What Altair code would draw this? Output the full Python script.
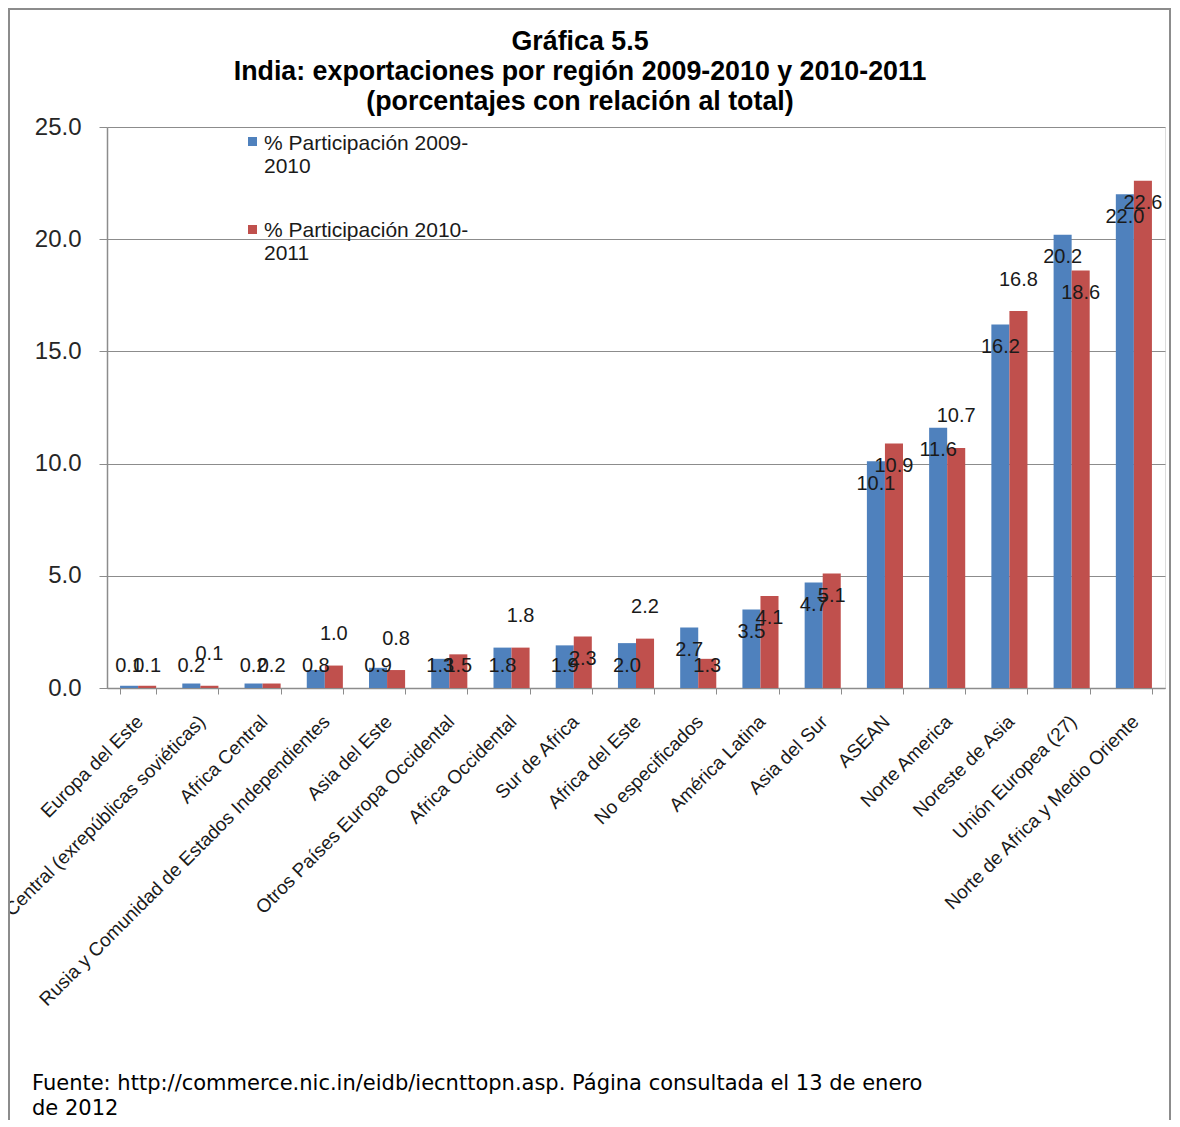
import altair as alt
import pandas as pd

# ---------------- data ----------------
regions = [
    "Europa del Este",
    "Asia Central (exrepúblicas soviéticas)",
    "Africa Central",
    "Rusia y Comunidad de Estados Independientes",
    "Asia del Este",
    "Otros Países Europa Occidental",
    "Africa Occidental",
    "Sur de Africa",
    "Africa del Este",
    "No especificados",
    "América Latina",
    "Asia del Sur",
    "ASEAN",
    "Norte America",
    "Noreste de Asia",
    "Unión Europea (27)",
    "Norte de Africa y Medio Oriente",
]
share_2009_2010 = [0.1, 0.2, 0.2, 0.8, 0.9, 1.3, 1.8, 1.9, 2.0, 2.7, 3.5, 4.7, 10.1, 11.6, 16.2, 20.2, 22.0]
share_2010_2011 = [0.1, 0.1, 0.2, 1.0, 0.8, 1.5, 1.8, 2.3, 2.2, 1.3, 4.1, 5.1, 10.9, 10.7, 16.8, 18.6, 22.6]
series_names = ["% Participación 2009-2010", "% Participación 2010-2011"]
series_colors = ["#4F81BD", "#C0504D"]
# which 2010-2011 value labels sit above their bar (as in the original chart)
label_above_2010_2011 = [False, True, False, True, True, False, True, False, True,
                         False, False, False, False, True, True, False, False]
title_lines = [
    "Gráfica 5.5",
    "India: exportaciones por región 2009-2010 y 2010-2011",
    "(porcentajes con relación al total)",
]
footer_lines = [
    "Fuente: http://commerce.nic.in/eidb/iecnttopn.asp. Página consultada el 13 de enero",
    "de 2012",
]
y_ticks = [0, 5, 10, 15, 20, 25]

rows = []
for i, r in enumerate(regions):
    rows.append({"region": r, "series": series_names[0], "value": share_2009_2010[i], "above": False})
    rows.append({"region": r, "series": series_names[1], "value": share_2010_2011[i],
                 "above": label_above_2010_2011[i]})
df = pd.DataFrame(rows)

FONT = "Liberation Sans"
GRID = "#8c8c8c"
W, H = 1058, 561

x_enc = alt.X(
    "region:N", sort=regions, title=None,
    scale=alt.Scale(paddingInner=0.42, paddingOuter=0.21),
    axis=alt.Axis(
        labelAngle=-45, labelAlign="right", labelBaseline="top",
        labelFont=FONT, labelFontSize=19, labelColor="#1a1a1a",
        labelPadding=18, labelOffset=-5, labelLimit=1000, labelOverlap=False,
        tickSize=6, tickColor=GRID, tickBand="extent",
        domainColor=GRID, domainWidth=1.5, grid=False,
    ),
)
xo_enc = alt.XOffset("series:N", sort=series_names)
y_scale = alt.Scale(domain=[0, 25], nice=False)

base = alt.Chart(df)

bars = base.mark_bar().encode(
    x=x_enc,
    xOffset=xo_enc,
    y=alt.Y(
        "value:Q", scale=y_scale, title=None,
        axis=alt.Axis(
            values=y_ticks, format=".1f",
            labelFont=FONT, labelFontSize=24, labelColor="#262626", labelPadding=18,
            tickSize=8, tickColor=GRID, domainColor=GRID, domainWidth=1.5,
            grid=True, gridColor=GRID, gridWidth=1.2,
        ),
    ),
    color=alt.Color("series:N", scale=alt.Scale(domain=series_names, range=series_colors), legend=None),
)

labels = base.transform_calculate(
    lab="datum.above ? datum.value + 1.4 : max(datum.value - 1, 1)"
).mark_text(
    font="Liberation Sans Narrow, Liberation Sans", fontSize=20, color="#1a1a1a",
    align="center", baseline="middle",
).encode(
    x=alt.X("region:N", sort=regions),
    xOffset=xo_enc,
    y=alt.Y("lab:Q", scale=y_scale),
    text=alt.Text("value:Q", format=".1f"),
)

# legend (inside the plot, top-left)
legend_layers = []
for i, name in enumerate(series_names):
    ldf = pd.DataFrame({"label": [[name[:21], name[21:]]]})
    legend_layers.append(
        alt.Chart(ldf).mark_square(size=81, color=series_colors[i], opacity=1).encode(
            x=alt.value(145.5), y=alt.value(14.5 + 88 * i)
        )
    )
    legend_layers.append(
        alt.Chart(ldf).mark_text(
            font=FONT, fontSize=21, lineHeight=23, align="left", baseline="middle", color="#1a1a1a"
        ).encode(x=alt.value(157), y=alt.value(17 + 87 * i), text="label:N")
    )

title = alt.Chart(pd.DataFrame({"t": [title_lines]})).mark_text(
    font=FONT, fontSize=26.8, fontWeight="bold", lineHeight=30, align="center",
    baseline="middle", color="#000000"
).encode(x=alt.value(473), y=alt.value(-85), text="t:N")

footer = alt.Chart(pd.DataFrame({"t": [footer_lines]})).mark_text(
    font="DejaVu Sans", fontSize=21, lineHeight=25, align="left", baseline="middle", color="#000000"
).encode(x=alt.value(-75), y=alt.value(957), text="t:N")

frame = alt.Chart(pd.DataFrame({"a": [0]})).mark_rect(
    fillOpacity=0, stroke="#8c8c8c", strokeWidth=2
).encode(x=alt.value(-98), x2=alt.value(1063), y=alt.value(-118), y2=alt.value(1100))

chart = alt.layer(frame, bars, labels, title, footer, *legend_layers).properties(
    width=W, height=H,
    autosize=alt.AutoSizeParams(type="none"),
    padding={"left": 99, "top": 119, "right": 7, "bottom": 432},
).configure_view(stroke=None).configure(background="white")

chart.save("out.html", embed_options={"renderer": "svg", "actions": False})
